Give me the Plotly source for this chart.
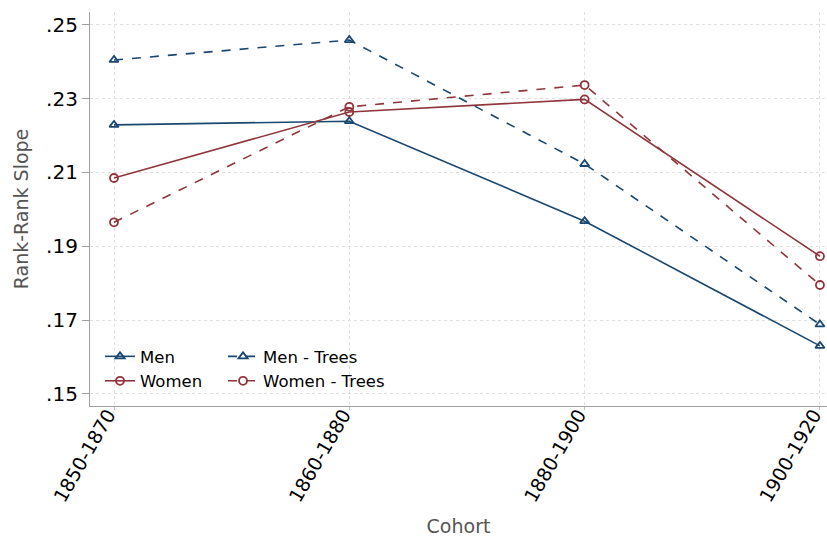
import plotly.graph_objects as go

cohorts = ["1850-1870", "1860-1880", "1880-1900", "1900-1920"]
men = [0.2229, 0.2239, 0.1968, 0.1630]
men_trees = [0.2405, 0.2459, 0.2123, 0.1688]
women = [0.2085, 0.2264, 0.2298, 0.1873]
women_trees = [0.1965, 0.2278, 0.2337, 0.1795]
y_ticks = [0.15, 0.17, 0.19, 0.21, 0.23, 0.25]
y_tick_labels = [".15", ".17", ".19", ".21", ".23", ".25"]

NAVY = "#1a476f"
MAROON = "#90353b"

# (name, values, colour, dash, marker, legend column)
series = [
    ("Men", men, NAVY, "solid", "triangle-up-open", "legend"),
    ("Women", women, MAROON, "solid", "circle-open", "legend"),
    ("Men - Trees", men_trees, NAVY, "dash", "triangle-up-open", "legend2"),
    ("Women - Trees", women_trees, MAROON, "dash", "circle-open", "legend2"),
]

fig = go.Figure()
for name, vals, color, dash, symbol, leg in series:
    fig.add_trace(go.Scatter(
        x=list(range(len(cohorts))), y=vals, name=name, mode="lines+markers",
        legend=leg,
        line=dict(color=color, width=1.6, dash=dash),
        marker=dict(symbol=symbol, size=8, color=color, line=dict(width=1.8, color=color)),
    ))

legend_common = dict(
    orientation="v", yanchor="bottom", xanchor="left",
    font=dict(size=16.5, family="DejaVu Sans", color="#000000"),
    bgcolor="rgba(0,0,0,0)", tracegroupgap=0, itemwidth=30,
)

fig.update_layout(
    width=827, height=538,
    margin=dict(l=90, r=0, t=12, b=132),
    paper_bgcolor="white", plot_bgcolor="white",
    font=dict(family="DejaVu Sans", color="#000000"),
    showlegend=True,
    legend=dict(x=0.0136, y=0.02, **legend_common),
    legend2=dict(x=0.1805, y=0.02, **legend_common),
)

fig.update_xaxes(
    range=[-0.102, 3.03],
    tickmode="array", tickvals=list(range(len(cohorts))), ticktext=cohorts,
    tickangle=-60, tickfont=dict(size=19),
    ticklabeloverflow="allow", ticklabelstandoff=-14, ticklabelshift=-6,
    ticks="outside", ticklen=3, tickcolor="#c0c0c0",
    showline=True, linecolor="#a0a0a0", linewidth=1.2,
    showgrid=True, gridcolor="#e0e0e0", griddash="dot", gridwidth=1,
    zeroline=False, automargin=False,
    title=dict(text="Cohort", font=dict(size=19, color="#555555"), standoff=14),
)
fig.update_yaxes(
    range=[0.1467, 0.2535],
    tickmode="array", tickvals=y_ticks, ticktext=y_tick_labels,
    tickfont=dict(size=20),
    ticks="outside", ticklen=7, tickcolor="#a0a0a0",
    showline=True, linecolor="#a0a0a0", linewidth=1.2,
    showgrid=True, gridcolor="#e0e0e0", griddash="dot", gridwidth=1,
    zeroline=False, automargin=False,
    title=dict(text="Rank-Rank Slope", font=dict(size=19, color="#555555"), standoff=12),
)

fig.write_html("out.html")
